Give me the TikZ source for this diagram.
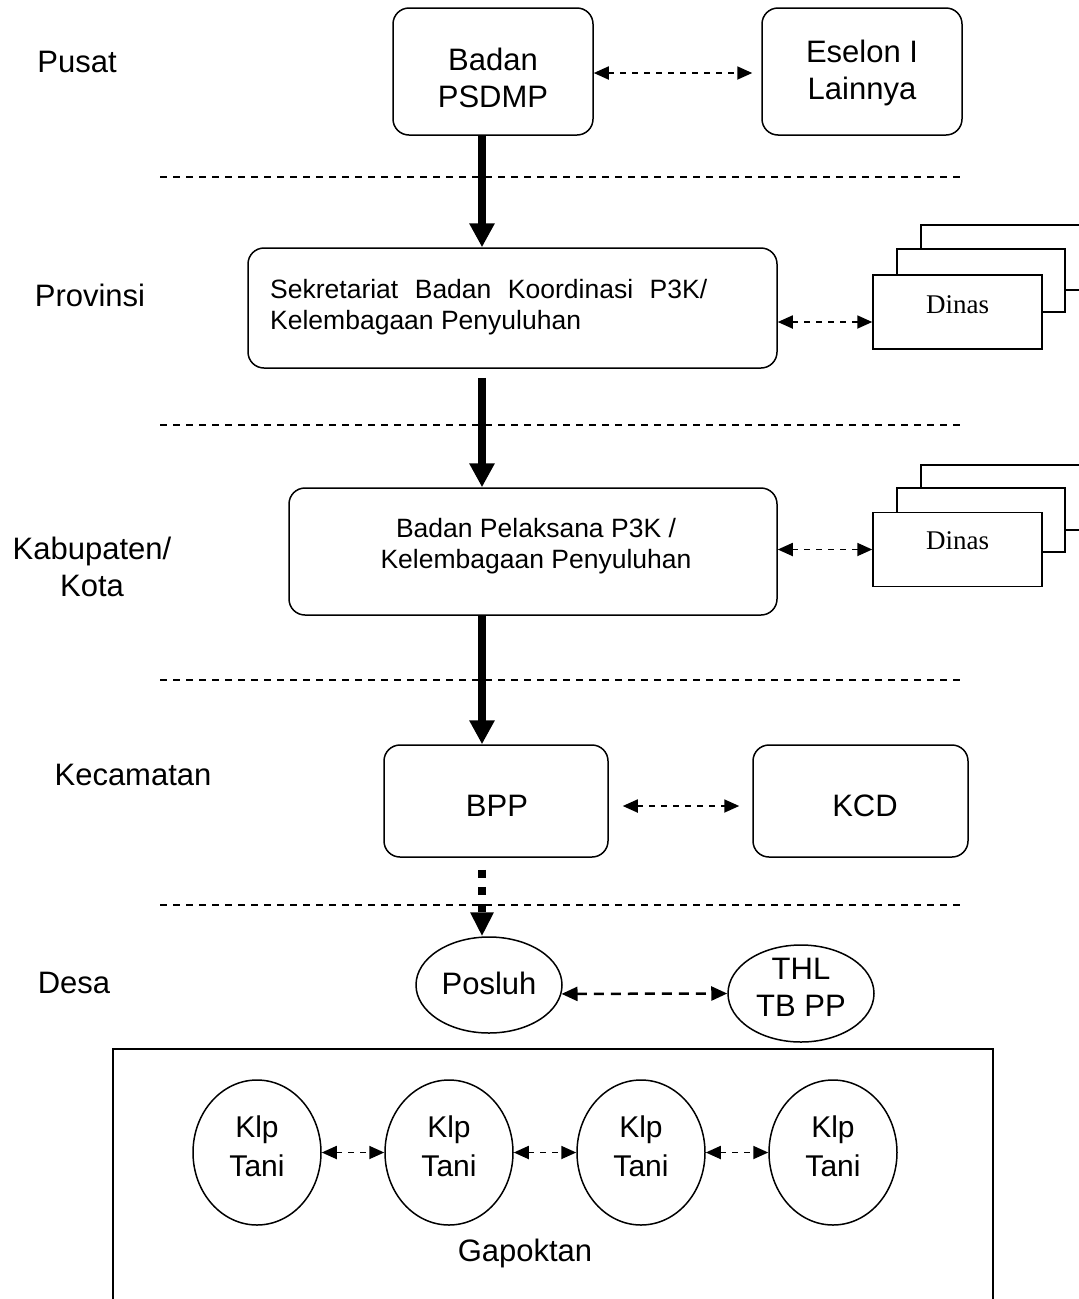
\documentclass[tikz,border=0pt]{standalone}
\usepackage{fontspec}
\setmainfont{Liberation Sans}
\newfontfamily\timesf{Liberation Serif}
\usetikzlibrary{arrows.meta,shapes.geometric}
\begin{document}
\begin{tikzpicture}[x=1pt,y=-1pt,
  big/.style={font=\fontsize{31}{37}\selectfont, align=center, inner sep=0pt},
  mid/.style={font=\fontsize{26.5}{31}\selectfont, align=center, inner sep=0pt},
  klp/.style={font=\fontsize{30}{39}\selectfont, align=center, inner sep=0pt},
  rbox/.style={draw, line width=1.5pt, rounded corners=16pt, inner sep=0pt},
  dbox/.style={draw, line width=1.5pt, fill=white, inner sep=0pt},
  ell/.style={draw, ellipse, line width=1.5pt, inner sep=0pt},
  thickarr/.style={line width=8pt, -{Triangle[width=24pt,length=24pt]}},
  dotarr/.style={line width=8pt, dash pattern=on 8pt off 9pt, -{Triangle[width=22pt,length=24pt]}},
  dasharr/.style={line width=1.8pt, dash pattern=on 6pt off 6pt, {Triangle[width=13pt,length=15pt]}-{Triangle[width=13pt,length=15pt]}},
  boldarr/.style={line width=2.5pt, dash pattern=on 10pt off 7pt, {Triangle[width=14pt,length=16pt]}-{Triangle[width=14pt,length=16pt]}},
  sepline/.style={line width=1.5pt, dash pattern=on 7pt off 6pt}
]
\useasboundingbox (0,0) rectangle (1079,1299);

% level labels
\node[big] (lpusat) at (77,62) {Pusat};
\node[big] (lprov) at (90,295) {Provinsi};
\node[big] (lkab) at (92,567) {Kabupaten/\\Kota};
\node[big] (lkec) at (133,775) {Kecamatan};
\node[big] (ldesa) at (74,983) {Desa};

% separator lines
\foreach \yy in {177,425,680,905} \draw[sepline] (160,\yy) -- (962,\yy);

% boxes
\node[rbox, minimum width=200pt, minimum height=127pt] (psdmp) at (493,71.5) {};
\node[big] (psdmpT) at (493,78) {Badan\\PSDMP};
\node[rbox, minimum width=200pt, minimum height=127pt] (eselon) at (862,71.5) {};
\node[big] (eselonT) at (862,73) {Eselon I\\Lainnya};

\node[rbox, minimum width=529pt, minimum height=120pt] (sekre) at (512.5,308) {};
\node[mid, anchor=west, align=left] (sekreT) at (270,307.5) {\hbox to 437pt{Sekretariat\hfill Badan\hfill Koordinasi\hfill P3K/}\\Kelembagaan Penyuluhan};

\node[rbox, minimum width=488pt, minimum height=127pt] (pelak) at (533,551.5) {};
\node[mid] (pelakT) at (536,546) {Badan Pelaksana P3K /\\Kelembagaan Penyuluhan};

\node[rbox, minimum width=224pt, minimum height=112pt] (bpp) at (496,801) {};
\node[big] (bppT) at (497,806) {BPP};
\node[rbox, minimum width=215pt, minimum height=112pt] (kcd) at (860.5,801) {};
\node[big] (kcdT) at (865,806) {KCD};

% Dinas stacks
\draw[dbox] (921,225) rectangle (1100,290);
\draw[dbox] (897,249) rectangle (1065,312);
\node[dbox, minimum width=169pt, minimum height=74pt] (dinasA) at (957.5,312) {};
\node[font=\timesf\fontsize{27}{32}\selectfont, inner sep=0pt] (dinasAT) at (957.5,305) {Dinas};

\draw[dbox] (921,465) rectangle (1100,530);
\draw[dbox] (897,488) rectangle (1065,552);
\node[dbox, minimum width=169pt, minimum height=74pt] (dinasB) at (957.5,549.5) {};
\node[font=\timesf\fontsize{27}{32}\selectfont, inner sep=0pt] (dinasBT) at (957.5,541) {Dinas};

% ellipses
\node[ell, minimum width=146pt, minimum height=96pt] (posluh) at (489,985) {};
\node[big] (posluhT) at (489,983) {Posluh};
\node[ell, minimum width=146pt, minimum height=97pt] (thl) at (801,993.5) {};
\node[big] (thlT) at (801,987) {THL\\TB PP};

% Gapoktan
\node[draw, line width=1.5pt, minimum width=880pt, minimum height=262pt, inner sep=0pt] (gap) at (553,1180) {};
\node[big] (gapT) at (525,1253) {Gapoktan};
\foreach \i/\xx in {1/257,2/449,3/641,4/833}
  \node[ell, minimum width=128pt, minimum height=145pt] (k\i) at (\xx,1152.5) {};
\foreach \i/\xx in {1/257,2/449,3/641,4/833}
  \node[klp] (kt\i) at (\xx,1146) {Klp\\Tani};

% connectors
\coordinate (ax) at (482,0);
\draw[thickarr] (psdmp.south -| ax) -- (sekre.north -| ax);
\draw[thickarr] ([yshift=-9pt]sekre.south -| ax) -- (pelak.north -| ax);
\draw[thickarr] (pelak.south -| ax) -- (bpp.north -| ax);
\draw[dotarr] ([yshift=-12pt]bpp.south -| ax) -- (posluh.north -| ax);

\draw[dasharr] (psdmp.east |- 0,73) -- ([xshift=-9pt]eselon.west |- 0,73);
\draw[dasharr] (sekre.east |- 0,322) -- (dinasA.west |- 0,322);
\draw[dasharr] (pelak.east |- dinasB.west) -- (dinasB.west);
\draw[dasharr] ([xshift=14pt]bpp.east |- 0,806) -- ([xshift=-13pt]kcd.west |- 0,806);
\draw[boldarr] (posluh.-7) -- (thl.west);
\draw[dasharr] (k1.east) -- (k2.west);
\draw[dasharr] (k2.east) -- (k3.west);
\draw[dasharr] (k3.east) -- (k4.west);
\end{tikzpicture}
\end{document}
